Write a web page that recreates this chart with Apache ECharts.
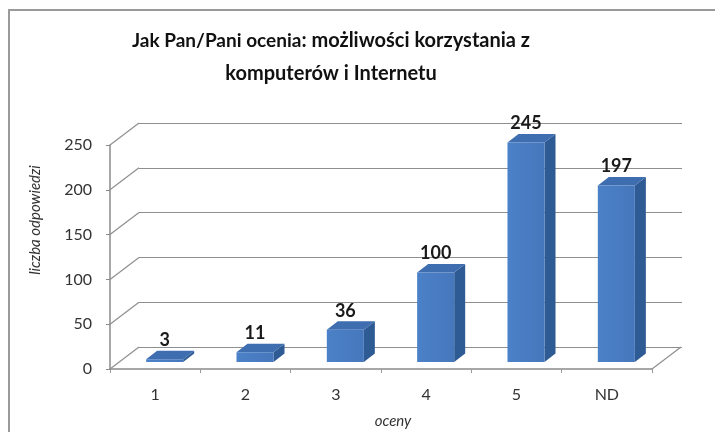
<!DOCTYPE html>
<html><head><meta charset="utf-8">
<script src="https://cdn.jsdelivr.net/npm/echarts@6/dist/echarts.min.js"></script>
<style>html,body{margin:0;padding:0;background:#fff}#c{width:715px;height:432px}</style>
</head><body><div id="c"></div>
<script>
// ---- data ----
const categories = ['1', '2', '3', '4', '5', 'ND'];
const values = [3, 11, 36, 100, 245, 197];
const yTicks = [0, 50, 100, 150, 200, 250];
const titleLead = 'Jak Pan/Pani ocenia';
const titleRest = ': możliwości korzystania z';
const titleLine2 = 'komputerów i Internetu';
const yName = 'liczba odpowiedzi';
const xName = 'oceny';

// ---- style constants ----
const WALL_DX = 29, WALL_DY = -22;
const BAR_DX = 11, BAR_DY = -8.5;
const BAR_SHIFT_X = 9.5, BAR_SHIFT_Y = -7;
const BAR_FRAC = 0.41;
const FONT = 'Lato, "Open Sans", sans-serif';
const GRID_C = '#8f8f8f';
const TEXT_C = '#333333';

const chart = echarts.init(document.getElementById('c'), null, {renderer: 'canvas'});

const yMin = yTicks[0], yMax = yTicks[yTicks.length - 1], yStep = yTicks[1] - yTicks[0];

function wallItem(params, api) {
  const t = api.value(1);
  const p = api.coord([0, t]);
  const w = api.size([1, 0])[0];
  const x0 = p[0] - w / 2;
  const children = [{
    type: 'line',
    shape: {x1: x0, y1: p[1], x2: x0 + WALL_DX, y2: p[1] + WALL_DY},
    style: {stroke: GRID_C, lineWidth: 1.2}
  }];
  if (t === yMin) {
    const pr = api.coord([categories.length - 1, t]);
    const x1 = pr[0] + w / 2;
    children.push({
      type: 'line',
      shape: {x1: x1, y1: pr[1], x2: x1 + WALL_DX, y2: pr[1] + WALL_DY},
      style: {stroke: GRID_C, lineWidth: 1.2}
    });
  }
  return {type: 'group', children: children};
}

function barItem(params, api) {
  const i = api.value(0), v = api.value(1);
  const b = api.coord([i, 0]);
  const t = api.coord([i, v]);
  const w = api.size([1, 0])[0];
  const fw = w * BAR_FRAC;
  const cx = b[0] + BAR_SHIFT_X;
  const L = cx - fw / 2, R = cx + fw / 2;
  const B = b[1] + BAR_SHIFT_Y, T = t[1] + BAR_SHIFT_Y;
  return {
    type: 'group',
    children: [
      {type: 'polygon', shape: {points: [[R, T], [R + BAR_DX, T + BAR_DY], [R + BAR_DX, B + BAR_DY], [R, B]]},
        style: {fill: '#2f5b94'}},
      {type: 'polygon', shape: {points: [[L, T], [L + BAR_DX, T + BAR_DY], [R + BAR_DX, T + BAR_DY], [R, T]]},
        style: {fill: '#3e6db0'}},
      {type: 'rect', shape: {x: L, y: T, width: fw, height: Math.max(B - T, 0.5)},
        style: {fill: {type: 'linear', x: 0, y: 0, x2: 1, y2: 0,
          colorStops: [{offset: 0, color: '#4b81c8'}, {offset: 1, color: '#4677bc'}]}}},
      {type: 'text', x: cx, y: T - 19,
        style: {text: String(v), font: 'bold 18px ' + FONT, fill: '#1a1a1a', align: 'center', verticalAlign: 'middle'}}
    ]
  };
}

const option = {
  backgroundColor: '#ffffff',
  animation: false,
  title: {
    text: '{a|' + titleLead + '}{b|' + titleRest + '}\n{b|' + titleLine2 + '}',
    left: 326, top: 19, textAlign: 'center',
    textStyle: {
      rich: {
        a: {fontFamily: FONT, fontWeight: 'bold', fontSize: 19, color: '#111111', lineHeight: 33},
        b: {fontFamily: FONT, fontWeight: 'bold', fontSize: 20, color: '#111111', lineHeight: 33}
      }
    }
  },
  grid: [
    {left: 110, right: 63, top: 145, bottom: 63},
    {left: 139, right: 33, top: 123, bottom: 85}
  ],
  xAxis: [
    {gridIndex: 0, type: 'category', data: categories,
      axisLine: {show: true, lineStyle: {color: '#8a8a8a', width: 1.5}},
      axisTick: {show: true, length: 4, lineStyle: {color: '#9a9a9a'}},
      axisLabel: {color: TEXT_C, fontFamily: FONT, fontSize: 16, margin: 18},
      splitLine: {show: false}},
    {gridIndex: 1, type: 'category', data: categories, show: false}
  ],
  yAxis: [
    {gridIndex: 0, type: 'value', min: yMin, max: yMax, interval: yStep,
      axisLine: {show: true, lineStyle: {color: '#8a8a8a', width: 1.5}},
      axisTick: {show: true, length: 4, lineStyle: {color: '#8a8a8a'}},
      axisLabel: {color: TEXT_C, fontFamily: FONT, fontSize: 16, margin: 18},
      splitLine: {show: false}},
    {gridIndex: 1, type: 'value', min: yMin, max: yMax, interval: yStep,
      axisLine: {show: false}, axisTick: {show: false}, axisLabel: {show: false},
      splitLine: {show: true, lineStyle: {color: GRID_C, width: 1.2}}}
  ],
  graphic: [
    {type: 'polyline', shape: {points: [[9, 432], [9, 10], [715, 10]]},
      style: {stroke: '#9a9a9a', lineWidth: 2, fill: null}, silent: true},
    {type: 'text', x: 35, y: 220, rotation: Math.PI / 2,
      style: {text: yName, font: 'italic 15px ' + FONT, fill: TEXT_C, align: 'center', verticalAlign: 'middle'}},
    {type: 'text', x: 393, y: 421,
      style: {text: xName, font: 'italic 15px ' + FONT, fill: TEXT_C, align: 'center', verticalAlign: 'middle'}}
  ],
  series: [
    {type: 'custom', xAxisIndex: 0, yAxisIndex: 0, renderItem: wallItem,
      data: yTicks.map(t => [0, t]), encode: {x: 0, y: 1}, z: 1, silent: true},
    {type: 'custom', xAxisIndex: 0, yAxisIndex: 0, renderItem: barItem,
      data: values.map((v, i) => [i, v]), encode: {x: 0, y: 1}, z: 5}
  ]
};
chart.setOption(option);
</script>
</body></html>
